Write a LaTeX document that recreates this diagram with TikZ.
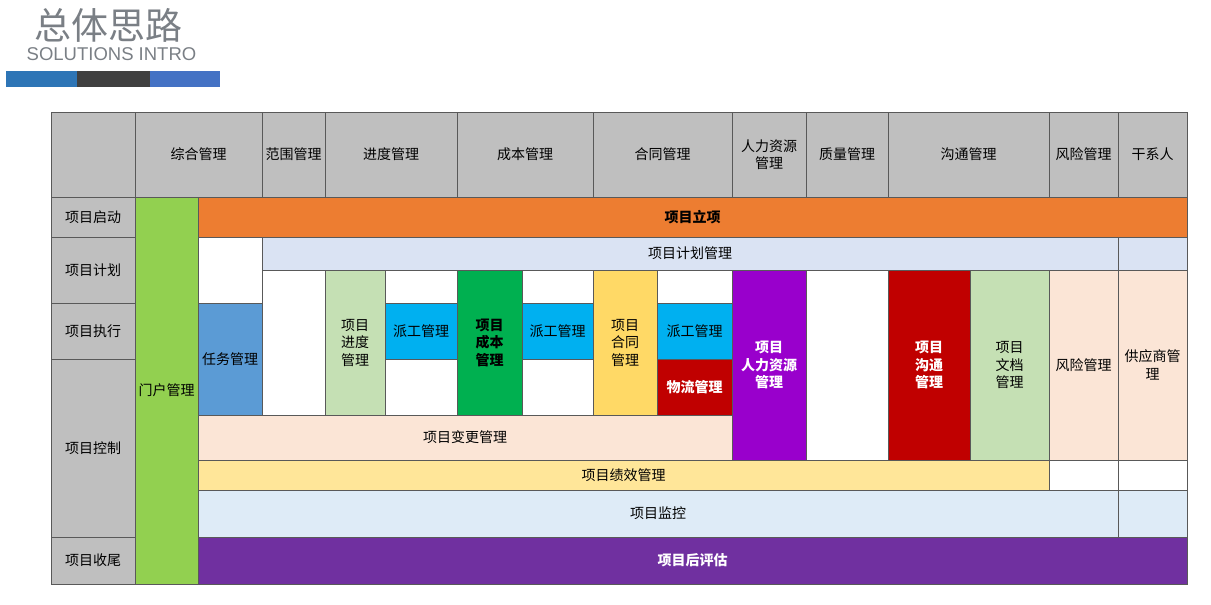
\documentclass[tikz,border=0pt]{standalone}
\usepackage{fontspec}
\usepackage{xcolor}
\usepackage{tikz}
\usetikzlibrary{positioning}
\newfontfamily\cjk{Noto Sans CJK SC}
\newfontfamily\latin{Liberation Sans}
\definecolor{hdrgray}{HTML}{BFBFBF}
\definecolor{edge}{HTML}{595959}
\definecolor{portal}{HTML}{92D050}
\definecolor{startor}{HTML}{ED7D31}
\definecolor{planblue}{HTML}{DAE3F3}
\definecolor{taskblue}{HTML}{5B9BD5}
\definecolor{palegreen}{HTML}{C5E0B4}
\definecolor{dispatch}{HTML}{00B0F0}
\definecolor{costgreen}{HTML}{00B050}
\definecolor{contract}{HTML}{FFD966}
\definecolor{darkred}{HTML}{C00000}
\definecolor{hrpurple}{HTML}{9900CC}
\definecolor{peach}{HTML}{FBE5D6}
\definecolor{perf}{HTML}{FFE699}
\definecolor{monitor}{HTML}{DEEBF7}
\definecolor{closepurple}{HTML}{7030A0}
\definecolor{titlegray}{HTML}{7A7F85}
\definecolor{barblue}{HTML}{2E75B6}
\definecolor{bardark}{HTML}{404040}
\definecolor{barblue2}{HTML}{4472C4}
\tikzset{
  cell/.style={draw=edge, line width=0.8pt, inner sep=0pt, align=center,
    text=black, font=\cjk\fontsize{14}{17.5}\selectfont},
  hdr/.style={cell, fill=hdrgray},
  blank/.style={cell, fill=white},
  strong/.style={font=\cjk\bfseries\fontsize{14}{17.5}\selectfont}
}
% name, x1, y1, x2, y2, style, text
\newcommand{\tcell}[7]{%
  \pgfmathsetmacro\cw{#4-#2}\pgfmathsetmacro\ch{#5-#3}%
  \node (#1) [cell,#6,minimum width=\cw pt,minimum height=\ch pt]
    at ({(#2+#4)/2},{(#3+#5)/2}) {#7};}
\begin{document}
\begin{tikzpicture}[x=1pt,y=-1pt]
\useasboundingbox (0,0) rectangle (1211,605);
% title
\node (title) [text=titlegray, font=\cjk\fontsize{37}{40}\selectfont] at (108.5,25) {总体思路};
\node (subtitle) [text=titlegray, font=\latin\fontsize{18.5}{20}\selectfont] at (111.5,54.5) {SOLUTIONS INTRO};
\fill [barblue] (6,71) rectangle (77,86.5);
\fill [bardark] (77,71) rectangle (150,86.5);
\fill [barblue2] (150,71) rectangle (220,86.5);
% header row
\tcell{h0}{51}{112}{135}{197}{hdr}{}
\tcell{h1}{135}{112}{262}{197}{hdr}{综合管理}
\tcell{h2}{262}{112}{325}{197}{hdr}{范围管理}
\tcell{h3}{325}{112}{457}{197}{hdr}{进度管理}
\tcell{h4}{457}{112}{593}{197}{hdr}{成本管理}
\tcell{h5}{593}{112}{732}{197}{hdr}{合同管理}
\tcell{h6}{732}{112}{806}{197}{hdr}{人力资源\\管理}
\tcell{h7}{806}{112}{888}{197}{hdr}{质量管理}
\tcell{h8}{888}{112}{1049}{197}{hdr}{沟通管理}
\tcell{h9}{1049}{112}{1118}{197}{hdr}{风险管理}
\tcell{h10}{1118}{112}{1187}{197}{hdr}{干系人}
% phase column
\tcell{r1}{51}{197}{135}{237}{hdr}{项目启动}
\tcell{r2}{51}{237}{135}{303}{hdr}{项目计划}
\tcell{r3}{51}{303}{135}{359}{hdr}{项目执行}
\tcell{r4}{51}{359}{135}{537}{hdr}{项目控制}
\tcell{r5}{51}{537}{135}{584}{hdr}{项目收尾}
% portal
\tcell{portal}{135}{197}{198}{584}{fill=portal}{门户管理}
% bands
\tcell{launch}{198}{197}{1187}{237}{fill=startor,strong}{项目立项}
\tcell{w1}{198}{237}{262}{303}{blank}{}
\tcell{plan}{262}{237}{1118}{270}{fill=planblue}{项目计划管理}
\tcell{planx}{1118}{237}{1187}{270}{fill=planblue}{}
\tcell{task}{198}{303}{262}{415}{fill=taskblue}{任务管理}
\tcell{w2}{262}{270}{325}{415}{blank}{}
\tcell{sched}{325}{270}{385}{415}{fill=palegreen}{项目\\进度\\管理}
\tcell{w3}{385}{270}{457}{303}{blank}{}
\tcell{disp1}{385}{303}{457}{359}{fill=dispatch}{派工管理}
\tcell{w4}{385}{359}{457}{415}{blank}{}
\tcell{cost}{457}{270}{522}{415}{fill=costgreen,strong}{项目\\成本\\管理}
\tcell{w5}{522}{270}{593}{303}{blank}{}
\tcell{disp2}{522}{303}{593}{359}{fill=dispatch}{派工管理}
\tcell{w6}{522}{359}{593}{415}{blank}{}
\tcell{contr}{593}{270}{657}{415}{fill=contract}{项目\\合同\\管理}
\tcell{w7}{657}{270}{732}{303}{blank}{}
\tcell{disp3}{657}{303}{732}{359}{fill=dispatch}{派工管理}
\tcell{logis}{657}{359}{732}{415}{fill=darkred,strong,text=white}{物流管理}
\tcell{change}{198}{415}{732}{460}{fill=peach}{项目变更管理}
\tcell{hr}{732}{270}{806}{460}{fill=hrpurple,strong,text=white}{项目\\人力资源\\管理}
\tcell{w8}{806}{270}{888}{460}{blank}{}
\tcell{comm}{888}{270}{970}{460}{fill=darkred,strong,text=white}{项目\\沟通\\管理}
\tcell{docs}{970}{270}{1049}{460}{fill=palegreen}{项目\\文档\\管理}
\tcell{risk}{1049}{270}{1118}{460}{fill=peach}{风险管理}
\tcell{supp}{1118}{270}{1187}{460}{fill=peach}{供应商管\\理}
\tcell{perfm}{198}{460}{1049}{490}{fill=perf}{项目绩效管理}
\tcell{w9}{1049}{460}{1118}{490}{blank}{}
\tcell{w10}{1118}{460}{1187}{490}{blank}{}
\tcell{watch}{198}{490}{1118}{537}{fill=monitor}{项目监控}
\tcell{watchx}{1118}{490}{1187}{537}{fill=monitor}{}
\tcell{review}{198}{537}{1187}{584}{fill=closepurple,strong,text=white}{项目后评估}
\end{tikzpicture}
\end{document}
